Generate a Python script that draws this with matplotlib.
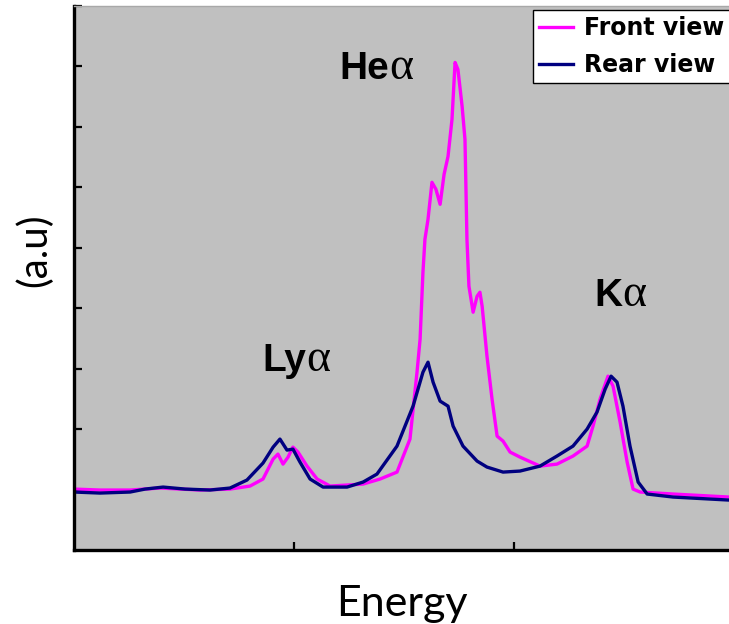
import matplotlib
matplotlib.use("Agg")
import matplotlib.pyplot as plt

# energy axis in arbitrary units, intensity in a.u.
front_energy = [0.000, 0.118, 0.255, 0.391, 0.573, 0.709, 0.800, 0.859, 0.905, 0.927,
                0.950, 0.973, 0.995, 1.018, 1.059, 1.105, 1.164, 1.314, 1.391, 1.468,
                1.527, 1.559, 1.573, 1.586, 1.595, 1.609, 1.627, 1.645, 1.664, 1.682,
                1.700, 1.718, 1.732, 1.745, 1.764, 1.777, 1.786, 1.795, 1.814, 1.832,
                1.845, 1.855, 1.877, 1.900, 1.923, 1.950, 1.982, 2.027, 2.118, 2.195,
                2.268, 2.332, 2.359, 2.391, 2.427, 2.450, 2.482, 2.514, 2.541, 2.573,
                2.723, 2.977]
front_intensity = [1.008, 0.992, 0.992, 1.025, 0.992, 1.008, 1.058, 1.174, 1.504, 1.587,
                   1.421, 1.537, 1.702, 1.620, 1.388, 1.174, 1.058, 1.091, 1.174, 1.289,
                   1.835, 2.942, 3.488, 4.595, 5.140, 5.471, 6.083, 5.967, 5.719, 6.215,
                   6.512, 7.124, 8.066, 7.950, 7.339, 6.793, 5.140, 4.364, 3.934, 4.198,
                   4.264, 4.033, 3.207, 2.496, 1.884, 1.802, 1.620, 1.537, 1.388, 1.421,
                   1.554, 1.719, 2.050, 2.496, 2.876, 2.711, 2.116, 1.455, 1.008, 0.959,
                   0.926, 0.876]

rear_energy = [0.000, 0.118, 0.255, 0.323, 0.405, 0.505, 0.618, 0.709, 0.786, 0.859,
               0.905, 0.936, 0.968, 0.995, 1.027, 1.073, 1.132, 1.241, 1.314, 1.377,
               1.468, 1.541, 1.586, 1.609, 1.632, 1.664, 1.700, 1.723, 1.768, 1.832,
               1.877, 1.950, 2.027, 2.118, 2.195, 2.268, 2.332, 2.377, 2.414, 2.441,
               2.468, 2.495, 2.527, 2.564, 2.605, 2.723, 2.977]
rear_intensity = [0.959, 0.942, 0.959, 1.008, 1.041, 1.008, 0.992, 1.025, 1.157, 1.438,
                  1.702, 1.835, 1.653, 1.669, 1.455, 1.174, 1.041, 1.041, 1.124, 1.256,
                  1.719, 2.380, 2.942, 3.107, 2.777, 2.463, 2.380, 2.050, 1.719, 1.471,
                  1.372, 1.289, 1.306, 1.388, 1.554, 1.719, 2.000, 2.281, 2.661, 2.876,
                  2.777, 2.380, 1.719, 1.124, 0.926, 0.876, 0.826]

peak_names = ["Ly", "He", "K"]
peak_label_x = [0.855, 1.205, 2.364]
peak_label_y = [2.959, 7.785, 4.033]

fig = plt.figure(figsize=(7.29, 6.24), dpi=100)
ax = fig.add_axes([74 / 729, 74 / 624, 655 / 729, 544 / 624])
ax.set_facecolor("#c0c0c0")

ax.plot(front_energy, front_intensity, color="#ff00ff", lw=2.4, label="Front view")
ax.plot(rear_energy, rear_intensity, color="#000080", lw=2.4, label="Rear view")

for name, px, py in zip(peak_names, peak_label_x, peak_label_y):
    t = ax.text(px, py, name, fontsize=28, fontweight="bold",
                fontfamily=["Liberation Sans", "DejaVu Sans"], va="baseline", ha="left")
    ax.annotate("\u03b1", xy=(1, py), xycoords=(t, "data"), fontsize=33,
                fontfamily=["Liberation Serif", "DejaVu Serif"],
                va="baseline", ha="left")

ax.set_xlim(0, 2.977)
ax.set_ylim(0, 9)
ax.set_xticks([1, 2])
ax.set_yticks(range(1, 10))
ax.set_xticklabels([])
ax.set_yticklabels([])
ax.tick_params(direction="in", length=6, width=1.6, color="black")

for side in ["left", "bottom"]:
    ax.spines[side].set_linewidth(2.4)
ax.spines["right"].set_visible(False)
ax.spines["top"].set_color("#a8a8a8")
ax.spines["top"].set_linewidth(1)

ax.set_xlabel("Energy", fontfamily="Lato", fontsize=31, labelpad=22)
ax.set_ylabel("(a.u)", fontfamily="Lato", fontsize=29)
ax.yaxis.set_label_coords(-0.032, 0.551)

leg = fig.legend(loc="upper left", bbox_to_anchor=(533 / 729, 1 - 10 / 624),
                 frameon=True, fancybox=False, framealpha=1, edgecolor="black",
                 prop={"family": "DejaVu Sans", "weight": "bold", "size": 17},
                 handlelength=1.45, handletextpad=0.45, borderpad=0.25,
                 labelspacing=0.55, borderaxespad=0)
leg.get_frame().set_linewidth(1)

fig.savefig("out.png", dpi=100)
